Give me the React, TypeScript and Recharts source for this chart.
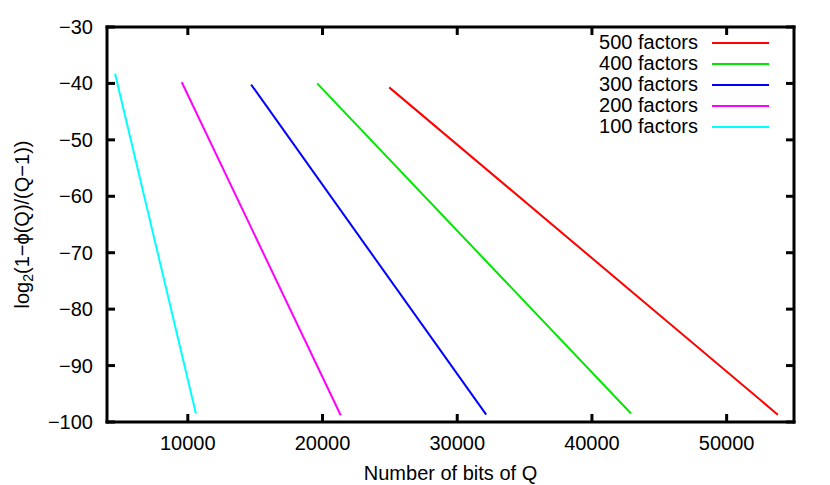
import { LineChart, Line, XAxis, YAxis, Legend } from 'recharts';

// Number of bits of Q (x) vs log2(1 - phi(Q)/(Q-1)) (y), one straight line per factor count
const bits100 = [4600, 10600];
const log100 = [-38.3, -98.5];
const bits200 = [9550, 21350];
const log200 = [-39.8, -98.8];
const bits300 = [14700, 32150];
const log300 = [-40.2, -98.7];
const bits400 = [19600, 42900];
const log400 = [-40.0, -98.5];
const bits500 = [24950, 53800];
const log500 = [-40.7, -98.7];

const seriesNames = ['100 factors', '200 factors', '300 factors', '400 factors', '500 factors'];
const seriesColors = ['#00ffff', '#ff00ff', '#0000ff', '#00e600', '#ff0000'];

const xTicks = [10000, 20000, 30000, 40000, 50000];
const yTicks = [-100, -90, -80, -70, -60, -50, -40, -30];

const toRows = (xs: number[], ys: number[]) => xs.map((x, i) => ({ bits: x, value: ys[i] }));

const series = [
  toRows(bits100, log100),
  toRows(bits200, log200),
  toRows(bits300, log300),
  toRows(bits400, log400),
  toRows(bits500, log500),
];

const FONT = '"Liberation Sans", Arial, Helvetica, sans-serif';
const fmt = (v: number) => (v < 0 ? '\u2212' + Math.abs(v) : String(v));

const BottomTick = ({ x, y, payload }: any) => (
  <g>
    <line x1={x} y1={y} x2={x} y2={y - 8} stroke="#000" strokeWidth={3} />
    <text x={x} y={y + 27.5} textAnchor="middle" fontSize={20} fill="#000" fontFamily={FONT}>
      {fmt(payload.value)}
    </text>
  </g>
);

const TopTick = ({ x, y }: any) => (
  <line x1={x} y1={y} x2={x} y2={y + 8} stroke="#000" strokeWidth={3} />
);

const LeftTick = ({ x, y, payload }: any) => (
  <g>
    <line x1={x} y1={y} x2={x + 8} y2={y} stroke="#000" strokeWidth={3} />
    <text x={x - 14} y={y + 7} textAnchor="end" fontSize={20} fill="#000" fontFamily={FONT}>
      {fmt(payload.value)}
    </text>
  </g>
);

const RightTick = ({ x, y }: any) => (
  <line x1={x} y1={y} x2={x - 8} y2={y} stroke="#000" strokeWidth={3} />
);

const YLabel = ({ viewBox }: any) => {
  const cx = 22;
  const cy = viewBox.y + viewBox.height / 2;
  return (
    <text
      x={cx}
      y={cy}
      transform={`rotate(-90, ${cx}, ${cy})`}
      textAnchor="middle"
      dominantBaseline="central"
      fontSize={20}
      fill="#000"
      fontFamily={FONT}
    >
      log
      <tspan fontSize={14} dy={6}>2</tspan>
      <tspan dy={-6}>(1{'\u2212'}{'\u03d5'}(Q)/(Q{'\u2212'}1))</tspan>
    </text>
  );
};

const XLabel = ({ viewBox }: any) => (
  <text
    x={viewBox.x + viewBox.width / 2}
    y={480}
    textAnchor="middle"
    fontSize={20}
    fill="#000"
    fontFamily={FONT}
  >
    Number of bits of Q
  </text>
);

const legendContent = () => (
  <div style={{ fontFamily: FONT, fontSize: 20, color: '#000' }}>
    {[4, 3, 2, 1, 0].map((i) => (
      <div
        key={i}
        style={{ display: 'flex', justifyContent: 'flex-end', alignItems: 'center', height: 21, lineHeight: '21px' }}
      >
        <span>{seriesNames[i]}</span>
        <div style={{ width: 57, height: 2, marginLeft: 14, background: seriesColors[i] }} />
      </div>
    ))}
  </div>
);

const axisLine = { stroke: '#000', strokeWidth: 3, strokeLinecap: 'square' as const };

export default function App() {
  return (
    <div style={{ width: 830, height: 485, background: '#fff' }}>
      <style>{`body{margin:0;}`}</style>
      <LineChart
        width={830}
        height={485}
        margin={{ top: 26, right: 35, left: 0, bottom: 0 }}
        style={{ fontFamily: FONT }}
      >
        <XAxis
          type="number"
          dataKey="bits"
          domain={[4000, 55000]}
          allowDataOverflow
          ticks={xTicks}
          height={63}
          tickSize={0}
          tickMargin={0}
          tick={<BottomTick />}
          tickLine={false}
          axisLine={axisLine}
          label={<XLabel />}
        />
        <XAxis
          xAxisId="top"
          orientation="top"
          type="number"
          dataKey="bits"
          domain={[4000, 55000]}
          allowDataOverflow
          ticks={xTicks}
          height={1}
          tickSize={0}
          tickMargin={0}
          tick={<TopTick />}
          tickLine={false}
          axisLine={axisLine}
        />
        <YAxis
          type="number"
          dataKey="value"
          domain={[-100, -30]}
          allowDataOverflow
          ticks={yTicks}
          width={107}
          tickSize={0}
          tickMargin={0}
          tick={<LeftTick />}
          tickLine={false}
          axisLine={axisLine}
          label={<YLabel />}
        />
        <YAxis
          yAxisId="right"
          orientation="right"
          type="number"
          dataKey="value"
          domain={[-100, -30]}
          allowDataOverflow
          ticks={yTicks}
          width={1}
          tickSize={0}
          tickMargin={0}
          tick={<RightTick />}
          tickLine={false}
          axisLine={axisLine}
        />
        <Legend
          layout="vertical"
          align="center"
          verticalAlign="middle"
          content={legendContent}
          wrapperStyle={{ position: 'absolute', left: 560, top: 32, width: 209 }}
        />
        {series.map((rows, i) => (
          <Line
            key={seriesNames[i]}
            data={rows}
            dataKey="value"
            name={seriesNames[i]}
            type="linear"
            stroke={seriesColors[i]}
            strokeWidth={2}
            dot={false}
            activeDot={false}
            isAnimationActive={false}
          />
        ))}
      </LineChart>
    </div>
  );
}
